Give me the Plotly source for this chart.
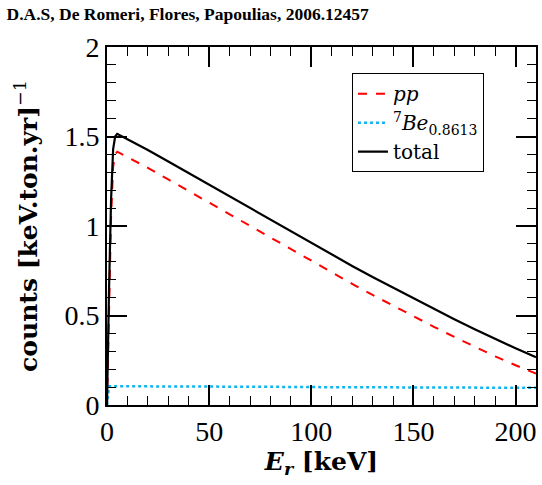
import plotly.graph_objects as go

# recoil energy grid [keV]
e_r = [0, 0.5, 1, 2, 3, 4, 5, 10, 20, 30, 40, 50, 60, 70, 80, 90, 100,
       110, 120, 130, 140, 150, 160, 170, 180, 190, 200, 210]

# counts per keV.ton.yr
pp = [0, 0.28, 0.55, 1.05, 1.33, 1.40, 1.415, 1.385, 1.325, 1.26, 1.195, 1.13,
      1.065, 1.0, 0.935, 0.87, 0.805, 0.74, 0.677, 0.615, 0.555, 0.496,
      0.437, 0.38, 0.325, 0.272, 0.222, 0.175]
be7 = [0, 0.08, 0.105, 0.105, 0.105, 0.105, 0.105, 0.105, 0.104, 0.104,
       0.103, 0.103, 0.102, 0.102, 0.101, 0.101, 0.100, 0.100, 0.099, 0.099,
       0.099, 0.098, 0.098, 0.097, 0.097, 0.097, 0.096, 0.096]
total = [0, 0.36, 0.65, 1.15, 1.43, 1.50, 1.515, 1.485, 1.425, 1.36, 1.295,
         1.23, 1.165, 1.10, 1.035, 0.97, 0.905, 0.84, 0.777, 0.715, 0.655,
         0.596, 0.537, 0.479, 0.423, 0.369, 0.317, 0.267]

font = "Liberation Serif"
title_font = "DejaVu Serif"

fig = go.Figure()
fig.add_trace(go.Scatter(x=e_r, y=pp, mode="lines", name="<i>pp</i>",
                         line=dict(color="red", width=2, dash="dash")))
fig.add_trace(go.Scatter(x=e_r, y=be7, mode="lines",
                         name="<sup>7</sup><i>Be</i><sub>0.8613</sub>",
                         line=dict(color="#10b4f0", width=2.5, dash="dot")))
fig.add_trace(go.Scatter(x=e_r, y=total, mode="lines", name="total",
                         line=dict(color="black", width=2.2)))

axis_common = dict(
    showline=True, linecolor="black", linewidth=2, mirror="allticks",
    ticks="inside", ticklen=20, tickwidth=1.5, tickcolor="black",
    showgrid=False, zeroline=False, automargin=False,
    tickfont=dict(family=font, size=28, color="black"),
)

fig.update_layout(
    width=542, height=485,
    paper_bgcolor="white", plot_bgcolor="white",
    margin=dict(l=107, r=6, t=47, b=80),
    font=dict(family=font, color="black"),
    title=dict(text="<b>D.A.S, De Romeri, Flores, Papoulias, 2006.12457</b>",
               x=0.012, xanchor="left", y=0.985, yanchor="top",
               font=dict(family=font, size=17.5, color="black")),
    xaxis=dict(range=[0, 210], tick0=0, dtick=50,
               minor=dict(dtick=10, ticks="inside", ticklen=9, tickwidth=1.2,
                          tickcolor="black", showgrid=False),
               title=dict(text="<b><i>E</i><sub><i>r</i></sub> [keV]</b>",
                          font=dict(family=title_font, size=25), standoff=4),
               **axis_common),
    yaxis=dict(range=[0, 2], tick0=0, dtick=0.5,
               minor=dict(dtick=0.1, ticks="inside", ticklen=9, tickwidth=1.2,
                          tickcolor="black", showgrid=False),
               title=dict(text="<b>counts [keV.ton.yr]</b><sup>−1</sup>",
                          font=dict(family=title_font, size=25), standoff=20),
               **axis_common),
    legend=dict(x=0.571, y=0.927, xanchor="left", yanchor="top",
                bgcolor="white", bordercolor="black", borderwidth=1,
                font=dict(family=title_font, size=20, color="black"),
                tracegroupgap=0, itemwidth=30),
    showlegend=True,
)

# drop the default page margin so the figure sits flush in the window
fig.write_html("out.html", config={"displayModeBar": False},
               post_script="document.body.style.margin='0';")
